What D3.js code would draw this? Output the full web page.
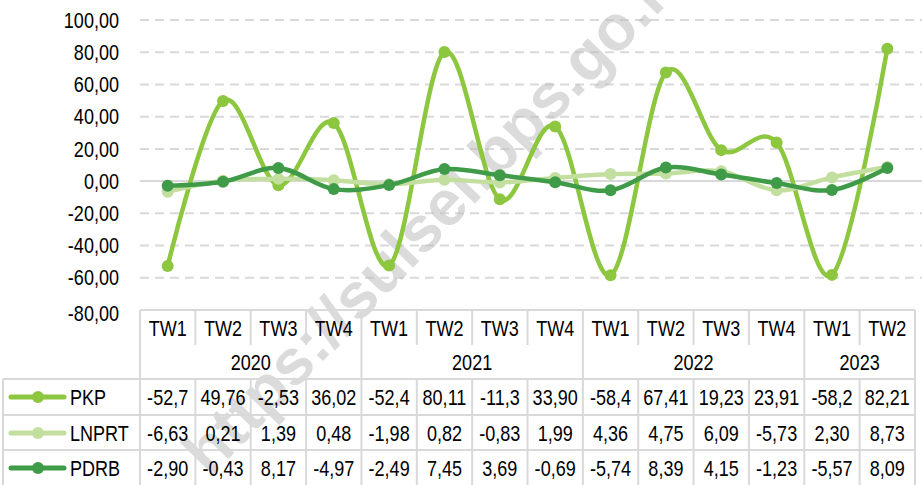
<!DOCTYPE html>
<html>
<head>
<meta charset="utf-8">
<script src="https://cdn.jsdelivr.net/npm/d3@7"></script>
<style>
  body { margin: 0; background: #fff; }
  svg text { font-family: "Liberation Sans", Arial, sans-serif; }
</style>
</head>
<body>
<div id="graph"></div>
<script>
// data
const quarters = ["TW1", "TW2", "TW3", "TW4", "TW1", "TW2", "TW3", "TW4", "TW1", "TW2", "TW3", "TW4", "TW1", "TW2"];
const years = [{ name: "2020", n: 4 }, { name: "2021", n: 4 }, { name: "2022", n: 4 }, { name: "2023", n: 2 }];
const pkp = [-52.7, 49.76, -2.53, 36.02, -52.4, 80.11, -11.3, 33.90, -58.4, 67.41, 19.23, 23.91, -58.2, 82.21];
const lnprt = [-6.63, 0.21, 1.39, 0.48, -1.98, 0.82, -0.83, 1.99, 4.36, 4.75, 6.09, -5.73, 2.30, 8.73];
const pdrb = [-2.90, -0.43, 8.17, -4.97, -2.49, 7.45, 3.69, -0.69, -5.74, 8.39, 4.15, -1.23, -5.57, 8.09];
const yTicks = [100, 80, 60, 40, 20, 0, -20, -40, -60, -80];

const series = [
    { name: "PKP", values: pkp, color: "#8dc63f" },
    { name: "LNPRT", values: lnprt, color: "#c3df9f" },
    { name: "PDRB", values: pdrb, color: "#3f9b48" },
];

const width = 922, height = 485;
const left = 140, right = 915;
const grid = "#d9d9d9";
const narrow = 0.82; // no Arial Narrow here, squeeze Liberation Sans instead

const svg = d3.select("#graph").append("svg")
    .attr("width", width)
    .attr("height", height);

const x = d3.scaleBand().domain(d3.range(quarters.length)).range([left, right]);
const y = d3.scaleLinear().domain([-80, 100]).range([310, 20]);
const cx = i => x(i) + x.bandwidth() / 2;

// condensed text helper
const label = (g, tx, ty, s, anchor) => g.append("text")
    .attr("transform", `translate(${tx},${ty}) scale(${narrow},1)`)
    .attr("dy", "0.35em")
    .attr("text-anchor", anchor || "middle")
    .text(s);

// gridlines
svg.append("g").selectAll("line")
    .data(yTicks.filter(d => d > -80))
    .enter().append("line")
    .attr("x1", left).attr("x2", width)
    .attr("y1", d => y(d)).attr("y2", d => y(d))
    .attr("stroke", grid)
    .attr("stroke-width", 2)
    .attr("stroke-dasharray", d => d === 0 ? null : "9,6");

// watermark (cut off at the top edge, as in the source image)
svg.append("text")
    .attr("transform", "translate(210,478) rotate(-46)")
    .attr("text-anchor", "start")
    .attr("font-size", 64)
    .attr("font-weight", "bold")
    .attr("fill", "#bdbdbd")
    .attr("fill-opacity", 0.55)
    .text("https://sulsel.bps.go.id");

// y labels
const fmt = (v, dec) => v.toFixed(dec).replace(".", ",");
const yl = svg.append("g").attr("font-size", 22).attr("fill", "#000");
yTicks.forEach(d => label(yl, 119, y(d) + (d === -80 ? 3 : 0), fmt(d, 2), "end"));

// lines
const line = d3.line()
    .x((d, i) => cx(i))
    .y(d => y(d))
    .curve(d3.curveCatmullRom.alpha(0));

series.forEach(s => {
    const g = svg.append("g");
    g.append("path")
        .datum(s.values)
        .attr("d", line)
        .attr("fill", "none")
        .attr("stroke", s.color)
        .attr("stroke-width", 4.5);
    g.selectAll("circle")
        .data(s.values)
        .enter().append("circle")
        .attr("cx", (d, i) => cx(i))
        .attr("cy", d => y(d))
        .attr("r", 6)
        .attr("fill", s.color);
});

// data table
const rowTop = [310, 345, 379, 415, 450, 486];
const tbl = svg.append("g").attr("stroke", grid).attr("stroke-width", 2);

tbl.append("line").attr("x1", left).attr("x2", right).attr("y1", rowTop[0]).attr("y2", rowTop[0]);
[2, 3, 4].forEach(r => tbl.append("line").attr("x1", 3).attr("x2", right).attr("y1", rowTop[r]).attr("y2", rowTop[r]));
tbl.append("line").attr("x1", 3).attr("x2", 3).attr("y1", rowTop[2]).attr("y2", height);
tbl.append("line").attr("x1", right).attr("x2", right).attr("y1", rowTop[0]).attr("y2", height);

// vertical separators
let yearStarts = [];
let acc = 0;
years.forEach(yr => { yearStarts.push(acc); acc += yr.n; });
d3.range(quarters.length).forEach(i => {
    const isYear = yearStarts.includes(i);
    tbl.append("line")
        .attr("x1", x(i)).attr("x2", x(i))
        .attr("y1", rowTop[0])
        .attr("y2", isYear ? height : rowTop[1]);
    if (!isYear) {
        tbl.append("line")
            .attr("x1", x(i)).attr("x2", x(i))
            .attr("y1", rowTop[2]).attr("y2", height);
    }
});

const txt = svg.append("g").attr("font-size", 22).attr("fill", "#000");

quarters.forEach((q, i) => label(txt, cx(i), 328, q));
years.forEach((yr, i) => label(txt, x(yearStarts[i]) + yr.n * x.bandwidth() / 2, 362, yr.name));

const cellText = v => (v < 0 && Math.abs(v) >= 10) ? fmt(v, 1) : fmt(v, 2);
const rowMid = [397, 433, 468];

series.forEach((s, r) => {
    const cy = rowMid[r];
    svg.append("line")
        .attr("x1", 11).attr("x2", 64)
        .attr("y1", cy).attr("y2", cy)
        .attr("stroke", s.color)
        .attr("stroke-width", 5)
        .attr("stroke-linecap", "round");
    svg.append("circle")
        .attr("cx", 38).attr("cy", cy).attr("r", 6)
        .attr("fill", s.color);
    label(txt, 70, cy, s.name, "start");
    s.values.forEach((v, i) => label(txt, cx(i), cy, cellText(v)));
});
</script>
</body>
</html>
